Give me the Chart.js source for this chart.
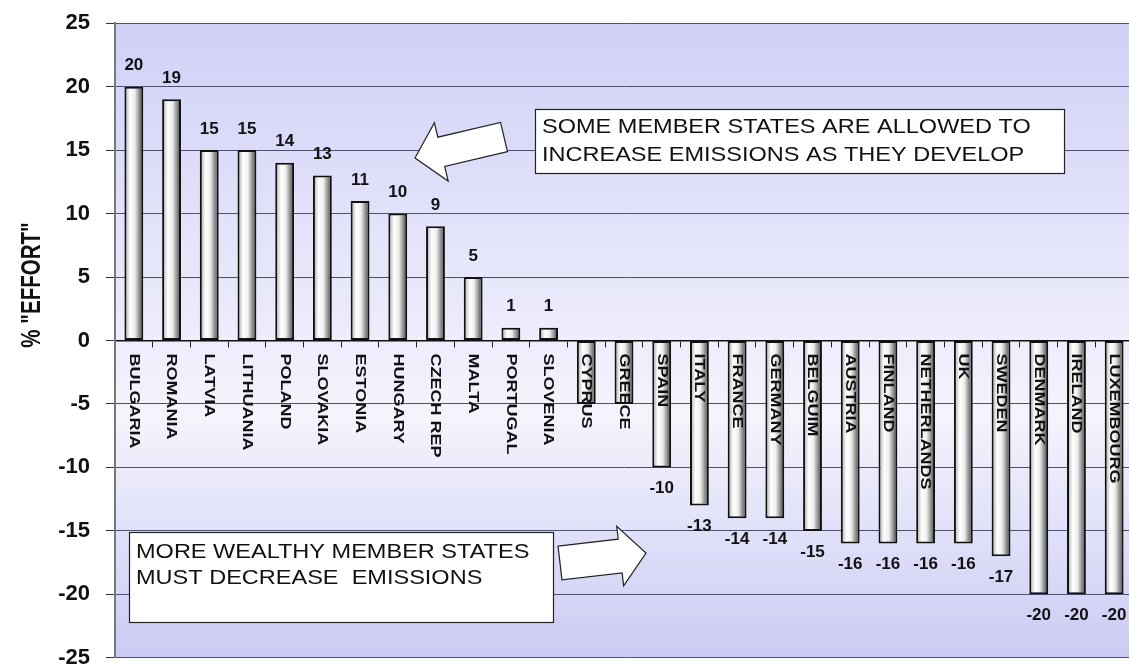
<!DOCTYPE html>
<html>
<head>
<meta charset="utf-8">
<script src="https://cdn.jsdelivr.net/npm/chart.js@4.4.0/dist/chart.umd.min.js"></script>
<style>
  html, body { margin: 0; padding: 0; background: #fff; overflow: hidden; }
  #wrap { position: relative; width: 1129px; height: 666px; overflow: hidden; }
  #box { position: absolute; left: 0; top: -6px; width: 1140px; height: 693px; }
</style>
</head>
<body>
<div id="wrap"><div id="box"><canvas id="chart"></canvas></div></div>
<script>
const countries = ['BULGARIA','ROMANIA','LATVIA','LITHUANIA','POLAND','SLOVAKIA','ESTONIA','HUNGARY','CZECH REP','MALTA','PORTUGAL','SLOVENIA',
  'CYPRUS','GREECE','SPAIN','ITALY','FRANCE','GERMANY','BELGUIM','AUSTRIA','FINLAND','NETHERLANDS','UK','SWEDEN','DENMARK','IRELAND','LUXEMBOURG'];
const effort = [20, 19, 15, 15, 14, 13, 11, 10, 9, 5, 1, 1, -5, -5, -10, -13, -14, -14, -15, -16, -16, -16, -16, -17, -20, -20, -20];
// cyprus and greece have no value printed in the original
const showValue = [1,1,1,1,1,1,1,1,1,1,1,1,0,0,1,1,1,1,1,1,1,1,1,1,1,1,1];
const yMin = -25, yMax = 25, yStep = 5;
const yTitle = '% "EFFORT"';
const noteUp = ['SOME MEMBER STATES ARE ALLOWED TO', 'INCREASE EMISSIONS AS THEY DEVELOP'];
const noteDown = ['MORE WEALTHY MEMBER STATES', 'MUST DECREASE  EMISSIONS'];

const FONT = '"Liberation Sans", Arial, sans-serif';
const SHIFT = 6; // canvas sits 6px above the window

function barFill(ctx) {
  const chart = ctx.chart;
  if (!chart.chartArea || !chart.scales.x) return '#e6e6e6';
  const xs = chart.scales.x;
  const cx = xs.getPixelForValue(ctx.dataIndex);
  const half = xs.width / countries.length * 0.25;
  const g = chart.ctx.createLinearGradient(cx - half, 0, cx + half, 0);
  g.addColorStop(0, '#a0a0a0');
  g.addColorStop(0.3, '#ffffff');
  g.addColorStop(0.55, '#eeeeee');
  g.addColorStop(1, '#3c3c3c');
  return g;
}

const plotBackground = {
  id: 'plotBackground',
  beforeDraw(chart) {
    const { ctx, chartArea: a } = chart;
    const g = ctx.createLinearGradient(0, a.top, 0, a.bottom);
    g.addColorStop(0, '#d0d0f7');
    g.addColorStop(0.62, '#f4f4fd');
    g.addColorStop(1, '#cacaf4');
    ctx.save();
    ctx.fillStyle = g;
    ctx.fillRect(a.left, a.top, a.right - a.left, a.bottom - a.top);
    ctx.restore();
  }
};

const barText = {
  id: 'barText',
  afterDatasetsDraw(chart) {
    const ctx = chart.ctx;
    const zeroY = chart.scales.y.getPixelForValue(0);
    const bars = chart.getDatasetMeta(0).data;
    ctx.save();
    ctx.fillStyle = '#111';
    bars.forEach((bar, i) => {
      // country name, written downward from the zero line
      ctx.save();
      ctx.font = 'bold 15px ' + FONT;
      ctx.textAlign = 'left';
      ctx.textBaseline = 'middle';
      ctx.translate(bar.x, zeroY + 13);
      ctx.rotate(Math.PI / 2);
      ctx.scale(1.2, 1);
      ctx.fillText(countries[i], 0, 0);
      ctx.restore();
      if (!showValue[i]) return;
      const v = effort[i];
      ctx.font = 'bold 17px ' + FONT;
      ctx.textAlign = 'center';
      ctx.textBaseline = 'middle';
      ctx.fillText(String(v), bar.x, v >= 0 ? bar.y - 21 : bar.y + 21);
    });
    ctx.restore();
  }
};

function blockArrow(ctx, tx, ty, hx, hy, shaft, head, headLen) {
  const len = Math.hypot(hx - tx, hy - ty);
  ctx.save();
  ctx.translate(tx, ty);
  ctx.rotate(Math.atan2(hy - ty, hx - tx));
  ctx.beginPath();
  ctx.moveTo(0, -shaft);
  ctx.lineTo(len - headLen, -shaft);
  ctx.lineTo(len - headLen, -head);
  ctx.lineTo(len, 0);
  ctx.lineTo(len - headLen, head);
  ctx.lineTo(len - headLen, shaft);
  ctx.lineTo(0, shaft);
  ctx.closePath();
  ctx.fillStyle = '#fff';
  ctx.fill();
  ctx.strokeStyle = '#222';
  ctx.lineWidth = 1.2;
  ctx.stroke();
  ctx.restore();
}

function noteBox(ctx, x, y, w, h, lines, firstY, lineGap) {
  ctx.save();
  ctx.fillStyle = '#fff';
  ctx.fillRect(x, y, w, h);
  ctx.strokeStyle = '#222';
  ctx.lineWidth = 1.2;
  ctx.strokeRect(x + 0.5, y + 0.5, w, h);
  ctx.fillStyle = '#111';
  ctx.font = '21px ' + FONT;
  ctx.textAlign = 'left';
  ctx.textBaseline = 'middle';
  lines.forEach((t, k) => {
    ctx.save();
    ctx.translate(x + 7, firstY + k * lineGap);
    ctx.scale(1.12, 1);
    ctx.fillText(t, 0, 0);
    ctx.restore();
  });
  ctx.restore();
}

const callouts = {
  id: 'callouts',
  afterDraw(chart) {
    const ctx = chart.ctx;
    ctx.save();
    ctx.translate(0, SHIFT);
    noteBox(ctx, 535, 109, 529, 64, noteUp, 127, 28);
    blockArrow(ctx, 504, 137, 415, 158, 15, 30, 27);
    noteBox(ctx, 129, 532, 424, 90, noteDown, 552, 26);
    blockArrow(ctx, 560, 563, 646, 553, 17, 30, 26);

    ctx.fillStyle = '#111';
    ctx.font = 'bold 27px ' + FONT;
    ctx.textAlign = 'center';
    ctx.textBaseline = 'middle';
    ctx.translate(33, 285);
    ctx.rotate(-Math.PI / 2);
    ctx.scale(0.76, 1);
    ctx.fillText(yTitle, 0, 0);
    ctx.restore();
  }
};

new Chart(document.getElementById('chart'), {
  type: 'bar',
  data: {
    labels: countries,
    datasets: [{
      data: effort,
      backgroundColor: barFill,
      borderColor: '#111',
      borderWidth: 2,
      borderSkipped: false,
      categoryPercentage: 1,
      barPercentage: 0.5
    }]
  },
  options: {
    responsive: true,
    maintainAspectRatio: false,
    animation: false,
    devicePixelRatio: 1,
    layout: { padding: { top: 0, right: 7, bottom: 0, left: 0 } },
    plugins: { legend: { display: false }, tooltip: { enabled: false } },
    scales: {
      x: {
        position: { y: 0 },
        ticks: { display: false },
        grid: { drawOnChartArea: false, drawTicks: true, tickLength: 6, tickColor: '#222', offset: true },
        border: { display: true, color: '#111', width: 1.5 }
      },
      y: {
        min: yMin,
        max: yMax,
        afterFit(scale) { scale.width = 115; },
        ticks: {
          stepSize: yStep,
          padding: 16,
          color: '#111',
          font: { family: FONT, size: 22, weight: 'bold' }
        },
        grid: { color: '#4e4e6e', lineWidth: 1, tickLength: 9, tickColor: '#333' },
        border: { display: true, color: '#777', width: 2 }
      }
    }
  },
  plugins: [plotBackground, barText, callouts]
});
</script>
</body>
</html>
